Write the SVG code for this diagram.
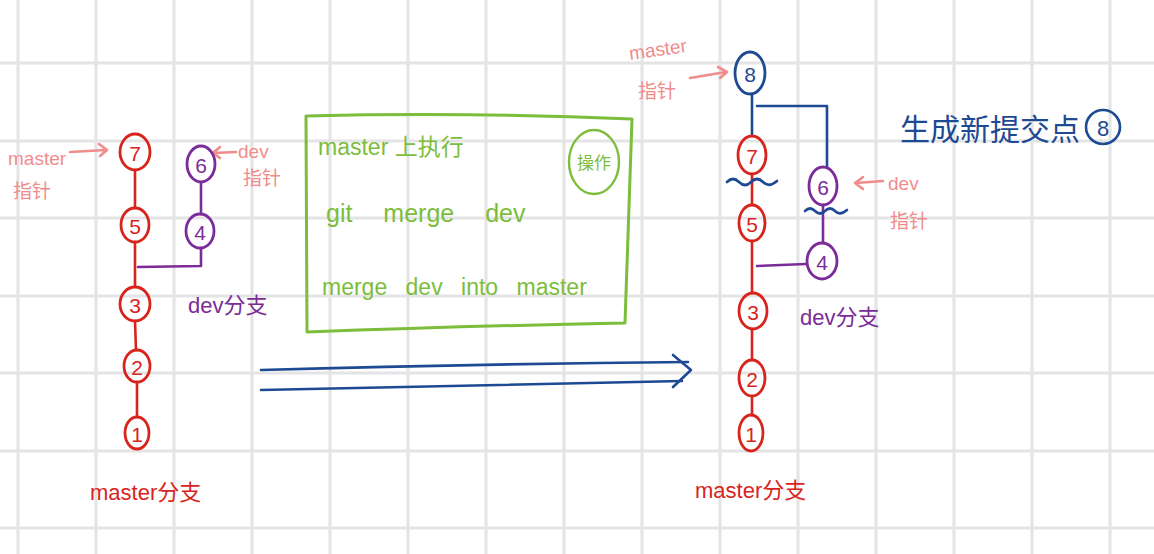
<svg xmlns="http://www.w3.org/2000/svg" width="1154" height="554" viewBox="0 0 1154 554">
<style>
.grid line{stroke:#e4e4e6;stroke-width:3}
.n ellipse{fill:none;stroke-width:2.8}
.n text{font-family:"Liberation Sans","Noto Sans CJK SC",sans-serif;font-size:21px;text-anchor:middle;dominant-baseline:central}
.red ellipse{stroke:#d8241c}.red text{fill:#d8241c}
.pur ellipse{stroke:#7b2c98}.pur text{fill:#7b2c98}
.blu ellipse{stroke:#1d4a92}.blu text{fill:#1d4a92}
.lbl{font-family:"Liberation Sans","Noto Sans CJK SC",sans-serif}
.pink{fill:#f08c8c;font-size:19px}
.c line,.c path,.c polyline{fill:none;stroke-width:2.6;stroke-linecap:round;stroke-linejoin:round}
.pk{stroke:#f08c8c;fill:none;stroke-width:2.2;stroke-linecap:round}
</style>
<rect width="1154" height="554" fill="#ffffff"/>
<g class="grid">
<line x1="18" y1="0" x2="18" y2="554"/><line x1="96" y1="0" x2="96" y2="554"/><line x1="174" y1="0" x2="174" y2="554"/><line x1="252" y1="0" x2="252" y2="554"/><line x1="330" y1="0" x2="330" y2="554"/><line x1="408" y1="0" x2="408" y2="554"/><line x1="486" y1="0" x2="486" y2="554"/><line x1="564" y1="0" x2="564" y2="554"/><line x1="642" y1="0" x2="642" y2="554"/><line x1="720" y1="0" x2="720" y2="554"/><line x1="798" y1="0" x2="798" y2="554"/><line x1="876" y1="0" x2="876" y2="554"/><line x1="954" y1="0" x2="954" y2="554"/><line x1="1032" y1="0" x2="1032" y2="554"/><line x1="1110" y1="0" x2="1110" y2="554"/>
<line x1="0" y1="63" x2="1154" y2="63"/><line x1="0" y1="141" x2="1154" y2="141"/><line x1="0" y1="218" x2="1154" y2="218"/><line x1="0" y1="296" x2="1154" y2="296"/><line x1="0" y1="373" x2="1154" y2="373"/><line x1="0" y1="451" x2="1154" y2="451"/><line x1="0" y1="528" x2="1154" y2="528"/>
</g>

<g id="connectors" class="c">
<!-- left -->
<line x1="135" y1="170" x2="135" y2="208" stroke="#d8241c"/>
<line x1="135" y1="242" x2="135" y2="287" stroke="#d8241c"/>
<line x1="135" y1="321" x2="136" y2="350" stroke="#d8241c"/>
<line x1="137" y1="382" x2="137" y2="417" stroke="#d8241c"/>
<line x1="201" y1="182" x2="201" y2="214" stroke="#7b2c98"/>
<polyline points="201,248 201,266 138,267" stroke="#7b2c98"/>
<!-- right -->
<line x1="752" y1="94" x2="752" y2="136" stroke="#1d4a92"/>
<polyline points="757,106 827,106 827,167" stroke="#1d4a92"/>
<line x1="752" y1="174" x2="752" y2="205" stroke="#d8241c"/>
<line x1="752" y1="241" x2="752" y2="293" stroke="#d8241c"/>
<line x1="752" y1="329" x2="752" y2="360" stroke="#d8241c"/>
<line x1="752" y1="396" x2="752" y2="415" stroke="#d8241c"/>
<line x1="823" y1="205" x2="823" y2="243" stroke="#7b2c98"/>
<line x1="806" y1="264" x2="757" y2="266" stroke="#7b2c98"/>
<path d="M727,182 q6,-6 12,0 t12,0 t12,0 t14,-1" stroke="#1d4a92"/>
<path d="M805,211 q5,-5 10,0 t10,0 t10,0 t12,-1" stroke="#1d4a92"/>
<!-- double arrow -->
<path d="M261,370 Q470,364 688,362" stroke="#1d4a92"/>
<path d="M261,390 Q470,385 682,381" stroke="#1d4a92"/>
<path d="M673,355 L691,370 L673,387" stroke="#1d4a92"/>
<!-- pointer arrows -->
<path class="pk" d="M70,152 L106,150 M99,144 L107,150 L100,156"/>
<path class="pk" d="M236,152 L214,153 M220,147 L213,153 L220,158"/>
<path class="pk" d="M690,78 L726,72 M718,67 L727,72 L720,78"/>
<path class="pk" d="M883,181 L856,183 M863,177 L855,183 L863,189"/>
</g>

<g id="n7L" class="n red"><ellipse cx="135" cy="152" rx="15" ry="18"/><text x="135" y="153">7</text></g>
<g id="n5L" class="n red"><ellipse cx="135" cy="225" rx="14" ry="17"/><text x="135" y="226">5</text></g>
<g id="n3L" class="n red"><ellipse cx="135" cy="304" rx="15" ry="17"/><text x="135" y="305">3</text></g>
<g id="n2L" class="n red"><ellipse cx="137" cy="366" rx="13" ry="16"/><text x="137" y="367">2</text></g>
<g id="n1L" class="n red"><ellipse cx="137" cy="433" rx="12" ry="16"/><text x="137" y="434">1</text></g>
<g id="n6L" class="n pur"><ellipse cx="201" cy="164" rx="14" ry="18"/><text x="201" y="165">6</text></g>
<g id="n4L" class="n pur"><ellipse cx="200" cy="231" rx="14" ry="17"/><text x="200" y="232">4</text></g>

<g id="n8R" class="n blu"><ellipse cx="750" cy="73" rx="15" ry="21"/><text x="750" y="74">8</text></g>
<g id="n7R" class="n red"><ellipse cx="752" cy="155" rx="14" ry="19"/><text x="752" y="156">7</text></g>
<g id="n5R" class="n red"><ellipse cx="752" cy="223" rx="13" ry="18"/><text x="752" y="224">5</text></g>
<g id="n3R" class="n red"><ellipse cx="753" cy="311" rx="14" ry="18"/><text x="753" y="312">3</text></g>
<g id="n2R" class="n red"><ellipse cx="752" cy="378" rx="13" ry="18"/><text x="752" y="379">2</text></g>
<g id="n1R" class="n red"><ellipse cx="751" cy="433" rx="12" ry="18"/><text x="751" y="434">1</text></g>
<g id="n6R" class="n pur"><ellipse cx="823" cy="186" rx="14" ry="19"/><text x="823" y="187">6</text></g>
<g id="n4R" class="n pur"><ellipse cx="822" cy="261" rx="15" ry="18"/><text x="822" y="262">4</text></g>

<g id="labels" class="lbl">
<text class="pink" x="8" y="165">master</text>
<text class="pink" x="13" y="198">指针</text>
<text class="pink" x="238" y="158">dev</text>
<text class="pink" x="243" y="185" font-size="17">指针</text>
<text x="188" y="313" fill="#7b2c98" font-size="22">dev分支</text>
<text x="90" y="500" fill="#d8241c" font-size="22">master分支</text>
<text class="pink" x="630" y="60" transform="rotate(-8 630 60)">master</text>
<text class="pink" x="638" y="98">指针</text>
<text class="pink" x="888" y="190" font-size="22">dev</text>
<text class="pink" x="890" y="228" font-size="20">指针</text>
<text x="800" y="325" fill="#7b2c98" font-size="22">dev分支</text>
<text x="695" y="498" fill="#d8241c" font-size="22">master分支</text>
<text x="900" y="140" fill="#1d4a92" font-size="30">生成新提交点</text>
<circle cx="1103" cy="127" r="17" fill="none" stroke="#1d4a92" stroke-width="2.6"/>
<text x="1103" y="128" fill="#1d4a92" font-size="22" text-anchor="middle" dominant-baseline="central">8</text>
</g>

<g id="opbox" class="lbl">
<path d="M306,116 Q470,112 632,119 L625,323 Q470,326 307,332 Z" fill="none" stroke="#7cbd3c" stroke-width="3" stroke-linejoin="round"/>
<text x="318" y="155" fill="#7cbd3c" font-size="23">master 上执行</text>
<text x="326" y="222" fill="#7cbd3c" font-size="25" word-spacing="24">git merge dev</text>
<text x="322" y="295" fill="#7cbd3c" font-size="23" word-spacing="12">merge dev into master</text>
<ellipse cx="594" cy="162" rx="25" ry="32" fill="none" stroke="#7cbd3c" stroke-width="2.4"/>
<text x="594" y="163" fill="#7cbd3c" font-size="17" text-anchor="middle" dominant-baseline="central">操作</text>
</g>
</svg>
